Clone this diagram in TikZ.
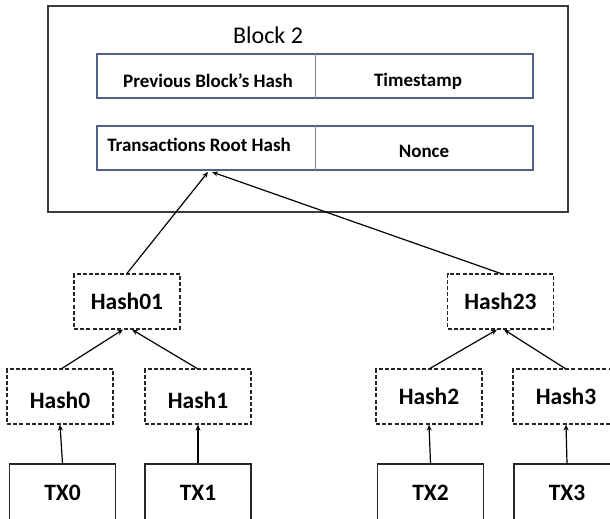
\documentclass[tikz,border=0pt]{standalone}
\usepackage{fontspec}
\setmainfont{Carlito}
\usetikzlibrary{arrows.meta}
\definecolor{rowblue}{RGB}{79,98,140}
\definecolor{divgray}{RGB}{128,128,128}
\definecolor{outline}{RGB}{60,60,60}
\tikzset{
  outerbox/.style={draw=outline, line width=1.5pt, minimum width=520pt, minimum height=206pt, inner sep=0pt},
  rowbox/.style={draw=rowblue, line width=1.4pt, minimum width=436pt, minimum height=44pt, inner sep=0pt},
  celltext/.style={font=\bfseries\fontsize{19}{21}\selectfont, inner sep=0pt},
  hashbox/.style={draw=black!85, dash pattern=on 4pt off 2.2pt, line width=1.2pt, minimum width=106pt, minimum height=55pt, inner sep=0pt, font=\bfseries\fontsize{23.5}{26}\selectfont},
  txbox/.style={draw=black!85, line width=1.2pt, minimum width=106pt, minimum height=58pt, inner sep=0pt, font=\bfseries\fontsize{23.5}{26}\selectfont},
  conn/.style={draw=black, line width=1.2pt, -{Stealth[length=6pt,width=5pt]}}
}
\begin{document}
\begin{tikzpicture}[x=1pt,y=-1pt]
\useasboundingbox (0,0) rectangle (610,519);
% block
\node[outerbox] (block) at (308,109) {};
\node[font=\fontsize{24}{28}\selectfont, inner sep=0pt] (title) at (268,35) {Block 2};
\node[rowbox] (row1) at (315,76) {};
\node[rowbox] (row2) at (315,148) {};
\draw[divgray, line width=1pt] (row1.north) -- (row1.south);
\draw[divgray, line width=1pt] (row2.north) -- (row2.south);
\node[celltext] (prev) at (208,81) {Previous Block’s Hash};
\node[celltext] (ts) at (418,81) {Timestamp};
\node[celltext] (trh) at (199,145) {Transactions Root Hash};
\node[celltext] (nonce) at (424,151) {Nonce};
\coordinate (tipL) at (208,172);
\coordinate (tipR) at (212,172);
% hash tree
\node[hashbox] (h01) at (127,301.5) {Hash01};
\node[hashbox] (h23) at (500.5,301.5) {Hash23};
\node[hashbox, text height=24pt, text depth=0pt] (h0) at (60,396.5) {Hash0};
\node[hashbox, text height=24pt, text depth=0pt] (h1) at (198,396.5) {Hash1};
\node[hashbox] (h2) at (429,396.5) {Hash2};
\node[hashbox] (h3) at (566,396.5) {Hash3};
\node[txbox] (tx0) at (62.5,493) {TX0};
\node[txbox] (tx1) at (198,493) {TX1};
\node[txbox] (tx2) at (430.5,493) {TX2};
\node[txbox] (tx3) at (567,493) {TX3};
% connectors
\draw[conn] (h01.north) -- (tipL);
\draw[conn] (h23.north) -- (tipR);
\draw[conn] ([xshift=2pt]h0.north) -- ([xshift=-4pt]h01.south);
\draw[conn] ([xshift=-1pt]h1.north) -- ([xshift=5pt]h01.south);
\draw[conn] ([xshift=1pt]h2.north) -- ([xshift=-3.5pt]h23.south);
\draw[conn] ([xshift=-1pt]h3.north) -- ([xshift=3.5pt]h23.south);
\draw[conn] (tx0.north) -- (h0.south);
\draw[conn] (tx1.north) -- (h1.south);
\draw[conn] (tx2.north) -- (h2.south);
\draw[conn] (tx3.north) -- (h3.south);
\end{tikzpicture}
\end{document}
